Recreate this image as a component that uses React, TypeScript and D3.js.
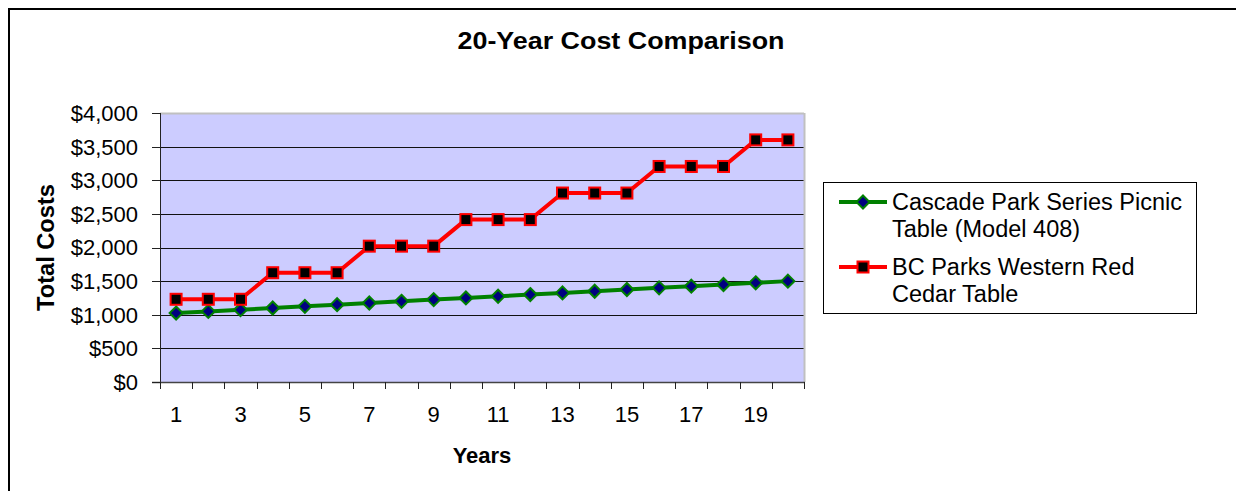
import React from "react";
import * as d3 from "d3";

const years = [1,2,3,4,5,6,7,8,9,10,11,12,13,14,15,16,17,18,19,20];
const cascade = [1025,1050,1075,1100,1125,1150,1175,1200,1225,1250,1275,1300,1325,1350,1375,1400,1425,1450,1475,1500];
const bcParks = [1230,1230,1230,1625,1625,1625,2020,2020,2020,2415,2415,2415,2810,2810,2810,3205,3205,3205,3600,3600];
const yTicks = [0,500,1000,1500,2000,2500,3000,3500,4000];
const xLabels = [1,3,5,7,9,11,13,15,17,19];
const title = "20-Year Cost Comparison";
const legend1 = ["Cascade Park Series Picnic", "Table (Model 408)"];
const legend2 = ["BC Parks Western Red", "Cedar Table"];

export default function App() {
  const W = 1236, H = 491;
  const left = 160, right = 804, top = 113, bottom = 382;
  const x = d3.scaleBand<number>().domain(years).range([left, right]);
  const y = d3.scaleLinear().domain([0, 4000]).range([bottom, top]);
  const cx = (d: number) => (x(d) as number) + x.bandwidth() / 2;
  const line = d3.line<number>().x((_, i) => cx(years[i])).y(v => y(v));
  const fmt = (v: number) => "$" + d3.format(",")(v);
  const font = "'Liberation Sans', Arial, sans-serif";
  const bounds = years.map(d => x(d) as number).concat([right]);

  const diamond = (px: number, py: number, r: number) =>
    `M${px},${py - r}L${px + r},${py}L${px},${py + r}L${px - r},${py}Z`;

  return (
    <svg width={W} height={H} style={{ position: "fixed", left: 0, top: 0 }} fontFamily={font}>
      <rect x={0} y={0} width={W} height={H} fill="#fff" />
      <rect x={9} y={9} width={W + 20} height={H + 20} fill="none" stroke="#000" strokeWidth={2} />
      <text x={621} y={49} textAnchor="middle" fontSize={23} fontWeight="bold" textLength={327} lengthAdjust="spacingAndGlyphs">{title}</text>

      <rect x={left} y={top} width={right - left} height={bottom - top} fill="#CCCCFF" />
      {yTicks.filter(t => t > 0 && t < 4000).map(t => (
        <line key={t} x1={left} x2={right} y1={Math.round(y(t)) + 0.5} y2={Math.round(y(t)) + 0.5} stroke="#111" strokeWidth={1} />
      ))}
      <line x1={left} x2={right} y1={top + 0.5} y2={top + 0.5} stroke="#c0c0c0" strokeWidth={2} />
      <line x1={right + 0.5} x2={right + 0.5} y1={top} y2={bottom} stroke="#c0c0c0" strokeWidth={2} />
      <line x1={left + 0.5} x2={left + 0.5} y1={top} y2={bottom + 7} stroke="#222" strokeWidth={1} />
      <line x1={left - 8} x2={right + 1} y1={bottom + 0.5} y2={bottom + 0.5} stroke="#444" strokeWidth={1.5} />
      {yTicks.map(t => (
        <g key={t}>
          <line x1={left - 8} x2={left} y1={Math.round(y(t)) + 0.5} y2={Math.round(y(t)) + 0.5} stroke="#222" />
          <text x={138} y={y(t)} dy="0.36em" textAnchor="end" fontSize={22}>{fmt(t)}</text>
        </g>
      ))}
      {bounds.map((b, i) => (
        <line key={i} x1={Math.round(b) + 0.5} x2={Math.round(b) + 0.5} y1={bottom} y2={bottom + 7} stroke="#222" />
      ))}
      {xLabels.map(l => (
        <text key={l} x={cx(l)} y={422} textAnchor="middle" fontSize={22}>{l}</text>
      ))}
      <text x={482} y={463} textAnchor="middle" fontSize={22} fontWeight="bold">Years</text>
      <text transform={`translate(54,${(top + bottom) / 2}) rotate(-90)`} textAnchor="middle" fontSize={23} fontWeight="bold" textLength={127} lengthAdjust="spacingAndGlyphs">Total Costs</text>

      <path d={line(cascade) || ""} fill="none" stroke="#008000" strokeWidth={4} />
      {cascade.map((v, i) => (
        <path key={i} d={diamond(cx(years[i]), y(v), 6.5)} fill="#000080" stroke="#008000" strokeWidth={2} />
      ))}
      <path d={line(bcParks) || ""} fill="none" stroke="#FF0000" strokeWidth={4} />
      {bcParks.map((v, i) => (
        <rect key={i} x={cx(years[i]) - 5.5} y={y(v) - 5.5} width={11} height={11} fill="#000" stroke="#FF0000" strokeWidth={2} />
      ))}

      <rect x={823.5} y={182.5} width={373} height={131} fill="#fff" stroke="#000" strokeWidth={1} />
      <line x1={839} x2={887} y1={202} y2={202} stroke="#008000" strokeWidth={4} />
      <path d={diamond(863, 202, 6.5)} fill="#000080" stroke="#008000" strokeWidth={2} />
      <line x1={839} x2={887} y1={267} y2={267} stroke="#FF0000" strokeWidth={4} />
      <rect x={857.5} y={261.5} width={11} height={11} fill="#000" stroke="#FF0000" strokeWidth={2} />
      {legend1.map((t, i) => (
        <text key={t} x={892} y={210 + i * 27} fontSize={23.5}>{t}</text>
      ))}
      {legend2.map((t, i) => (
        <text key={t} x={892} y={275 + i * 27} fontSize={23.5}>{t}</text>
      ))}
    </svg>
  );
}
